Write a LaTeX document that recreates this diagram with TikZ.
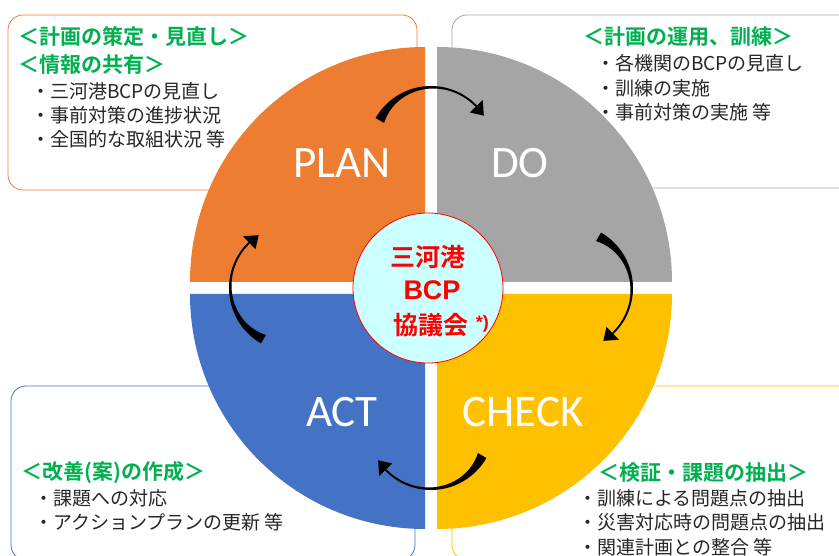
\documentclass[tikz,border=0pt]{standalone}
\usepackage{fontspec}
\newfontfamily\jp[BoldFont={Noto Sans CJK JP Bold}]{Noto Sans CJK JP}
\newfontfamily\cali{Carlito}
\newfontfamily\ari{Liberation Sans}
\usetikzlibrary{positioning}
\definecolor{planorange}{RGB}{237,125,49}
\definecolor{dogray}{RGB}{165,165,165}
\definecolor{checkyellow}{RGB}{255,192,0}
\definecolor{actblue}{RGB}{68,114,196}
\definecolor{headgreen}{RGB}{0,176,80}
\definecolor{centrecyan}{RGB}{204,255,255}
\tikzset{
infobox/.style={ % frames round the texts
rounded corners=15pt,
line width=0.8pt},
phase/.style={ % PLAN, DO, CHECK, ACT
text=white,
font=\cali\fontsize{45}{45}\selectfont},
headtext/.style={ % green headings
anchor=west, inner sep=0pt,
text=headgreen,
font=\jp\bfseries\fontsize{21}{21}\selectfont},
itemtext/.style={ % bullet lines
anchor=west, inner sep=0pt,
text=black!85,
font=\jp\fontsize{19}{19}\selectfont},
centretext/.style={ % text in the middle
text=red, inner sep=0pt,
font=\jp\bfseries\fontsize{25}{25}\selectfont}}

\begin{document}
\begin{tikzpicture}[x=1pt, y=1pt, node distance=8pt]
\useasboundingbox (0,0) rectangle (839,555);
\clip (0,0) rectangle (839,555);
% frames
\draw[infobox, draw=planorange] (8,365) rectangle (417,540);
\draw[infobox, draw=dogray] (452,367) rectangle (870,540);
\draw[infobox, draw=actblue] (11,-5) rectangle (415,169);
\draw[infobox, draw=checkyellow] (452,-5) rectangle (870,169);
% quadrants
\coordinate (o) at (431,267);
\fill[planorange] (425,273) -- ++(-235,0) arc[start angle=180, end angle=90, radius=235] -- cycle;
\fill[dogray] (437,273) -- ++(0,235) arc[start angle=90, end angle=0, radius=235] -- cycle;
\fill[checkyellow] (437,261) -- ++(235,0) arc[start angle=0, end angle=-90, radius=235] -- cycle;
\fill[actblue] (425,261) -- ++(0,-235) arc[start angle=-90, end angle=-180, radius=235] -- cycle;
% cycle arrows
\foreach \d in {90,0,-90,180}{
\begin{scope}[shift={(o)}, shift={(\d:138)}]
\fill ({\d+60}:64) arc[start angle={\d+60}, end angle={\d-46}, radius=64]
  -- plot[domain={\d-46}:{\d+60}, samples=30, variable=\a] (\a:{62.1-8*((\a-(\d)+46)/106)^3}) -- cycle;
\fill ({\d-46}:72) -- ({\d-57}:63) -- ({\d-46}:54) -- cycle;
\end{scope}
}
% centre
\node[circle, draw=red, fill=centrecyan, line width=0.8pt, minimum size=150pt] (kaigi) at (428,267) {};
\node[centretext] (mikawa) at (428,298) {三河港};
\node[centretext, font=\ari\bfseries\fontsize{27}{27}\selectfont] (bcp) at (432,265) {BCP};
\node[centretext] (kyogi) at (431,230) {協議会};
\node[centretext, font=\ari\bfseries\fontsize{18}{18}\selectfont, right=7pt of kyogi, yshift=1pt] (note) {*)};
% phases
\node[phase] (plan) at (342,392) {PLAN};
\node[phase] (do) at (520,392) {DO};
\node[phase] (act) at (342,143) {ACT};
\node[phase] (check) at (523,143) {CHECK};
% plan texts
\node[headtext] (h11) at (18,518) {＜計画の策定・見直し＞};
\node[headtext] (h12) at (18,490) {＜情報の共有＞};
\node[itemtext] (b11) at (31,464) {・三河港BCPの見直し};
\node[itemtext] (b12) at (31,440) {・事前対策の進捗状況};
\node[itemtext] (b13) at (31,416) {・全国的な取組状況 等};
% do texts
\node[headtext] (h2) at (583,518) {＜計画の運用、訓練＞};
\node[itemtext] (b21) at (596,492) {・各機関のBCPの見直し};
\node[itemtext] (b22) at (596,467) {・訓練の実施};
\node[itemtext] (b23) at (596,443) {・事前対策の実施 等};
% act texts
\node[headtext] (h3) at (21,82) {＜改善(案)の作成＞};
\node[itemtext] (b31) at (34,57) {・課題への対応};
\node[itemtext] (b32) at (34,33) {・アクションプランの更新 等};
% check texts
\node[headtext] (h4) at (598,82) {＜検証・課題の抽出＞};
\node[itemtext] (b41) at (578,57) {・訓練による問題点の抽出};
\node[itemtext] (b42) at (578,33) {・災害対応時の問題点の抽出};
\node[itemtext] (b43) at (578,8) {・関連計画との整合 等};
\end{tikzpicture}
\end{document}
